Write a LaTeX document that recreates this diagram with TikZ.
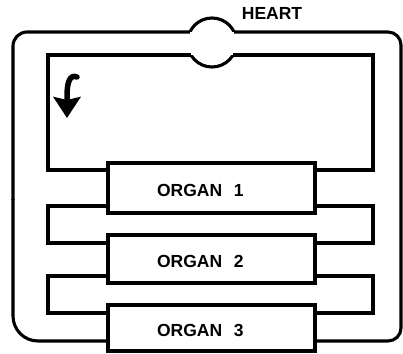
\documentclass[tikz,border=0pt]{standalone}
\usepackage{fontspec}
\setmainfont{Liberation Sans}
\usetikzlibrary{arrows.meta}
\begin{document}
\begin{tikzpicture}[x=1pt, y=-1pt, line width=3.1pt,
  lbl/.style={font=\bfseries\fontsize{17.5}{20}\selectfont},
  organ/.style={lbl, draw, fill=white, minimum width=207pt, inner sep=0pt,
                text width=109pt, align=left,
                text height=17.5pt, text depth=0pt},
  vessel/.style={draw, line join=miter}]
\useasboundingbox (0,0) rectangle (403,353);

% organ boxes
\node[organ, minimum height=50pt] (o1) at (211.5,188) {ORGAN\ \ 1};
\node[organ, minimum height=48pt] (o2) at (211.5,259) {ORGAN\ \ 2};
\node[organ, minimum height=46pt] (o3) at (211.5,328) {ORGAN\ \ 3};

% heart
\node[circle, minimum size=49pt, inner sep=0pt] (heart) at (212,42.5) {};
\node[lbl, anchor=base] (heartlbl) at (272,19.5) {HEART};
\coordinate (hOL) at (189.86,32);
\coordinate (hOR) at (234.14,32);
\coordinate (hIL) at (190.93,55);
\coordinate (hIR) at (233.07,55);
\begin{scope}
  \clip (0,0) rectangle (403,32);
  \draw (heart.center) circle[radius=24.5pt];
\end{scope}
\begin{scope}
  \clip (0,55) rectangle (403,120);
  \draw (heart.center) circle[radius=24.5pt];
\end{scope}

% outer loop (through organ 3)
\draw[vessel, rounded corners=14pt] (hOL) -- (13,32) -- (13,200);
\draw[vessel, rounded corners=25pt] (13,199) -- (13,341) -- (o3.west |- 0,341);
\draw[vessel, rounded corners=13pt] (hOR) -- (401,32) -- (401,341) -- (o3.east |- 0,341);

% inner loop to organ 1
\draw[vessel] (hIL) -- (48,55) -- (48,170) -- (o1.west |- 0,170);
\draw[vessel] (hIR) -- (373,55) -- (373,170) -- (o1.east |- 0,170);

% organ 1 to organ 2
\draw[vessel] (o1.west |- 0,206) -- (48,206) -- (48,243) -- (o2.west |- 0,243);
\draw[vessel] (o1.east |- 0,206) -- (373,206) -- (373,243) -- (o2.east |- 0,243);

% organ 2 to organ 3
\draw[vessel] (o2.west |- 0,276) -- (48,276) -- (48,313) -- (o3.west |- 0,313);
\draw[vessel] (o2.east |- 0,276) -- (373,276) -- (373,313) -- (o3.east |- 0,313);

% flow direction arrow
\coordinate (flowtop) at (77,77);
\coordinate (flowtip) at (67,118);
\draw[line width=5.5pt, line cap=round,
      -{Stealth[length=21pt, width=27pt, inset=3pt]}]
  (flowtop) .. controls (70,74) and (67,82) .. (67,96) -- (flowtip);
\end{tikzpicture}
\end{document}
